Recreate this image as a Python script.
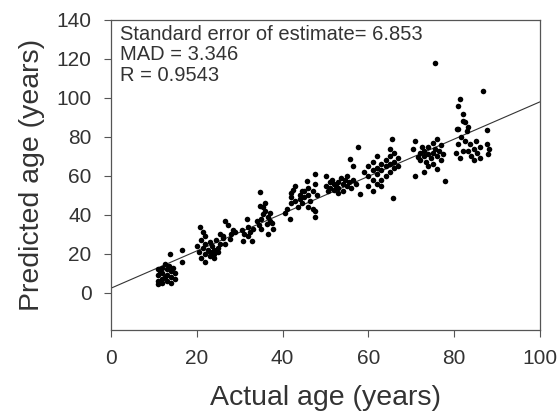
import numpy as np, pandas as pd, matplotlib.pyplot as plt, seaborn as sns

sns.set_style("ticks")
plt.rcParams["font.family"] = ["Liberation Sans", "DejaVu Sans"]

# actual vs predicted age
actual = [11, 11, 11, 11, 11.5, 12, 12, 12, 12, 12.5, 13, 13, 13, 13.5, 14, 14, 14, 14.5, 15, 15, 13.8, 16.5, 16.5, 12.5,
          20.7, 21.5, 20, 20.5, 21, 21, 21.5, 22, 22, 22, 22.5, 23, 23, 23, 23.5, 24, 24, 24.5, 25, 25, 25.5, 25.5, 26, 22, 24,
          26.6, 27.3, 26.1, 26.6, 27.7, 28, 28.5, 29, 30.5, 30.8, 31, 31.7, 32, 32.5, 32.8, 33.2, 32,
          34.7, 34.7, 35.5, 34, 35, 36.3, 36.6, 35, 36, 36.5, 37, 37.5, 37.8, 34.5, 36, 35.5, 37,
          40.5, 41, 41.7, 42, 42, 42.5, 42, 43, 43.5, 44, 44, 44.5, 45, 45, 45.7, 46, 46, 46.5, 47, 47.5, 47.5, 47, 47.5, 47.5, 48, 43, 44.5, 46,
          50, 50.5, 51, 51, 51.5, 52, 52, 52.5, 53, 53, 53.5, 54, 54, 54.5, 55, 55, 55.5, 55.7, 56.4, 57.6, 56, 56.5, 57, 58, 53, 50,
          59, 60, 60, 61, 61, 61, 62, 62, 62, 63, 63, 63, 64, 64, 64, 65, 65, 65, 65.5, 65, 66, 66, 66, 67, 67, 61, 65.8, 62, 60, 63,
          70.4, 70.9, 71.6, 70.9, 72, 72, 72.5, 73, 73, 73.5, 74, 74, 74.5, 75, 75, 75, 75.5, 76, 76, 76.5, 77, 77, 77.5, 77.8, 75.5, 73, 74, 76,
          80.6, 81.4, 80.9, 82, 82.5, 83.2, 81, 83, 87.6, 86.7, 80.9, 81.4, 82, 82.5, 83.2, 83.7, 84, 84.5, 85, 85.3, 86, 86, 87.6, 87.9, 88, 81.5, 82, 84.5, 80.5]
predicted = [12, 9, 6, 4.5, 11, 13, 10, 7, 5, 8, 12, 9, 6, 14, 11, 8, 5, 13, 10, 7, 20, 22, 16, 15,
             34, 31, 24, 21, 27, 18, 23, 25, 20, 16, 22, 26, 21, 19, 24, 22, 20, 27, 23, 21, 25, 30, 28, 29, 18,
             37, 35, 29, 25, 27.5, 30, 32, 31, 32, 26.5, 30, 37.8, 34, 31, 26.5, 32.6, 29,
             51.7, 44.5, 40.4, 37, 38, 35.2, 30, 33, 42, 39, 37, 36, 33, 35, 46, 44, 41,
             41, 43, 38, 46, 49, 53, 51, 47, 44, 48, 50, 46, 52, 49, 57.4, 50, 54, 47, 52, 61, 56, 43, 39, 42, 50, 55, 52, 44,
             55, 52, 57, 54, 58, 56, 53, 55, 57, 54, 59, 56, 52, 58, 55, 60, 57, 68.8, 65, 75, 54, 58, 56, 50.7, 51, 60,
             62, 60, 65, 58, 63, 67, 61, 64, 70, 58, 66, 63, 65, 60, 68, 62, 66, 70, 79, 74, 64, 67, 72, 65, 69, 52, 48.6, 56, 55, 55,
             74, 78, 69.5, 60, 72, 68, 75, 70, 73, 67, 71, 75, 69, 72, 77, 66, 74, 70, 63.6, 73, 68, 76, 71, 57.4, 117.8, 62, 65, 79,
             84, 99.7, 96, 88.4, 87.6, 85, 84.3, 83, 83.5, 103.4, 76.5, 69, 73, 78, 73, 76.5, 70, 74, 78, 72, 69, 75, 76.5, 71, 74, 80, 92, 68, 72]

# fitted line end points as drawn in the picture
line_x = [0, 100]
line_y = [2.4, 98]

stats_text = ["Standard error of estimate= 6.853", "MAD = 3.346", "R = 0.9543"]

df = pd.DataFrame({"actual": actual, "predicted": predicted})

fig = plt.figure(figsize=(5.59, 4.16), dpi=100)
ax = fig.add_axes([0.1986, 0.207, 0.7674, 0.745])

sns.lineplot(x=line_x, y=line_y, color="#333333", lw=0.8, ax=ax)
sns.scatterplot(data=df, x="actual", y="predicted", color="black", s=16, linewidth=0, ax=ax, zorder=3)

ax.set_xlim(0, 100); ax.set_ylim(-19, 140)
ax.set_xticks(range(0, 101, 20)); ax.set_yticks(range(0, 141, 20))
ax.tick_params(labelsize=15, colors="#555555", labelcolor="#333333", length=5, width=0.8, direction="out")
ax.tick_params(axis="x", pad=9); ax.tick_params(axis="y", pad=9)
for s in ax.spines.values(): s.set_visible(True); s.set_color("#555555"); s.set_linewidth(0.9)
ax.set_xlabel("Actual age (years)", fontsize=20.5, color="#333333", labelpad=12)
ax.set_ylabel("Predicted age (years)", fontsize=20.5, color="#333333", labelpad=8)

ax.text(0.02, 0.985, "\n".join(stats_text), transform=ax.transAxes, va="top", ha="left",
        fontsize=14.5, color="#333333", linespacing=1.12)

fig.savefig("out.png", dpi=100)
